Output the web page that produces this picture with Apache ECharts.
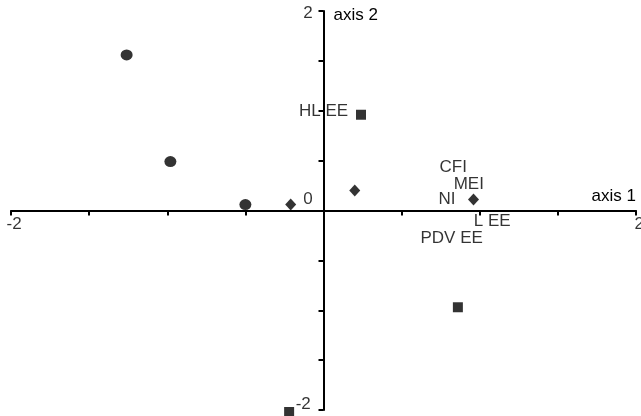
<!DOCTYPE html>
<html>
<head>
<meta charset="utf-8">
<script src="https://cdn.jsdelivr.net/npm/echarts@6/dist/echarts.min.js"></script>
<style>html,body{margin:0;padding:0;background:#fff;}#c{width:641px;height:416px;}</style>
</head>
<body>
<div id="c"></div>
<script>
// Data (axis 1, axis 2)
var circlePoints = [[-1.26, 1.56], [-0.98, 0.49], [-0.50, 0.06]];
var diamondPoints = [[-0.21, 0.06], [0.20, 0.20], [0.96, 0.11]];
var squarePoints = [[0.24, 0.96], [0.86, -0.97], [-0.22, -2.02]];
var labelNames = ['HL EE', 'CFI', 'MEI', 'NI', 'L EE', 'PDV EE'];
var labelCoords = [[0.0, 0.99], [0.83, 0.43], [0.93, 0.26], [0.79, 0.11], [1.08, -0.11], [0.82, -0.28]];
// Tick labels (text, placed in axis units next to the ticks they name)
var tickLabelNames = ['-2', '2', '2', '-2', '0'];
var tickLabelCoords = [[-1.98, -0.135], [2.02, -0.135], [-0.10, 1.98], [-0.13, -1.94], [-0.10, 0.11]];
var axisMin = -2, axisMax = 2, tickInterval = 0.5;

var FONT = 'Liberation Sans, Arial, sans-serif';
var INK = '#000';
var chart = echarts.init(document.getElementById('c'), null, {renderer: 'canvas'});

var labelData = labelNames.map(function (n, i) { return {name: n, value: labelCoords[i]}; })
  .concat(tickLabelNames.map(function (n, i) { return {name: n, value: tickLabelCoords[i]}; }));

chart.setOption({
  animation: false,
  backgroundColor: '#fff',
  grid: {left: 11, top: 11, width: 625, height: 399, containLabel: false, outerBoundsMode: 'none'},
  xAxis: {
    type: 'value', min: axisMin, max: axisMax, interval: tickInterval,
    axisLine: {onZero: true, lineStyle: {color: INK, width: 2}},
    axisTick: {length: 5, lineStyle: {color: INK, width: 2}},
    axisLabel: {show: false},
    splitLine: {show: false},
    name: 'axis 1', nameLocation: 'end', nameGap: 0,
    nameTextStyle: {color: INK, fontFamily: FONT, fontSize: 17, align: 'right', verticalAlign: 'bottom', padding: [0, 0, 6, 0]}
  },
  yAxis: {
    type: 'value', min: axisMin, max: axisMax, interval: tickInterval,
    axisLine: {onZero: true, lineStyle: {color: INK, width: 2}},
    axisTick: {length: 5, lineStyle: {color: INK, width: 2}},
    axisLabel: {show: false},
    splitLine: {show: false},
    name: 'axis 2', nameLocation: 'end', nameGap: -4,
    nameTextStyle: {color: INK, fontFamily: FONT, fontSize: 17, align: 'left', verticalAlign: 'middle', padding: [0, 0, 0, 10]}
  },
  series: [
    {type: 'scatter', data: circlePoints, symbol: 'circle', symbolSize: [12, 11], itemStyle: {color: INK}, clip: false},
    {type: 'scatter', data: diamondPoints, symbol: 'diamond', symbolSize: [11, 12], itemStyle: {color: INK}, clip: false},
    {type: 'scatter', data: squarePoints, symbol: 'rect', symbolSize: 10, itemStyle: {color: INK}, clip: false},
    {type: 'scatter', data: labelData, symbolSize: 1, itemStyle: {color: 'rgba(0,0,0,0)'}, clip: false, silent: true,
     label: {show: true, position: 'inside', formatter: '{b}', color: INK, fontFamily: FONT, fontSize: 17}}
  ]
});
</script>
</body>
</html>
